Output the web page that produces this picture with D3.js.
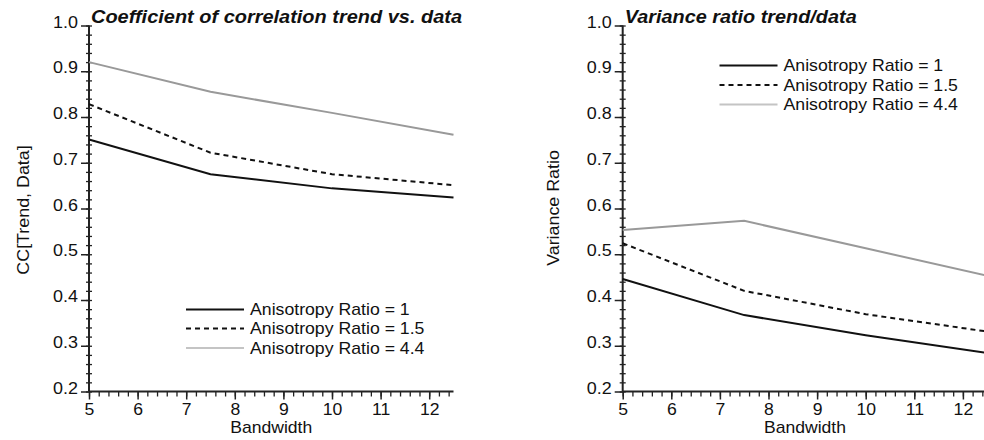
<!DOCTYPE html>
<html>
<head>
<meta charset="utf-8">
<script src="https://cdn.jsdelivr.net/npm/d3@7"></script>
<style>
  html, body { margin: 0; padding: 0; background: #fff; }
  svg { display: block; }
  text { font-family: "Liberation Sans", Arial, Helvetica, sans-serif; fill: #111; }
</style>
</head>
<body>
<svg id="chart" width="984" height="440"></svg>
<script>
// ---- data ----
const bandwidth = [5, 7.5, 10, 12.5];
const seriesNames = ["Anisotropy Ratio = 1", "Anisotropy Ratio = 1.5", "Anisotropy Ratio = 4.4"];
const ccAR1  = [0.751, 0.675, 0.644, 0.624];
const ccAR15 = [0.828, 0.722, 0.675, 0.651];
const ccAR44 = [0.920, 0.855, 0.809, 0.761];
const vrAR1  = [0.446, 0.367, 0.323, 0.284];
const vrAR15 = [0.524, 0.420, 0.369, 0.331];
const vrAR44 = [0.553, 0.573, 0.513, 0.453];
const xMajorTicks = [5, 6, 7, 8, 9, 10, 11, 12];
const yMajorTicks = [0.2, 0.3, 0.4, 0.5, 0.6, 0.7, 0.8, 0.9, 1.0];
const titles = ["Coefficient of correlation trend vs. data", "Variance ratio trend/data"];
const yLabels = ["CC[Trend, Data]", "Variance Ratio"];
const xLabel = "Bandwidth";

// ---- styles ----
const styles = [
  { stroke: "#111", dash: null, legendStroke: "#111" },
  { stroke: "#111", dash: "5,4", legendStroke: "#111" },
  { stroke: "#999", dash: null, legendStroke: "#c4c4c4" }
];

const svg = d3.select("#chart");

function stretch(sel, f) {
  sel.each(function () {
    const w = this.getComputedTextLength();
    d3.select(this).attr("textLength", w * f).attr("lengthAdjust", "spacingAndGlyphs");
  });
}

function panel(cfg) {
  const x = d3.scaleLinear().domain([5, 12.5]).range([cfg.x0, cfg.x0 + 364.5]);
  const y = d3.scaleLinear().domain([0.2, 1.0]).range([391.5, 25.5]);
  const g = svg.append("g");

  // minor x ticks
  const xMinor = d3.range(50, 126, 2).map(v => v / 10).filter(v => v <= 12.5);
  g.append("g").attr("transform", `translate(0,${y(0.2)})`)
    .call(d3.axisBottom(x).tickValues(xMinor).tickSize(5).tickFormat(""))
    .call(a => a.select(".domain").remove())
    .call(a => a.selectAll("line").attr("stroke", "#222").attr("stroke-width", 1.3));
  // major x ticks
  const xa = g.append("g").attr("transform", `translate(0,${y(0.2)})`)
    .call(d3.axisBottom(x).tickValues(xMajorTicks).tickSize(8).tickPadding(4).tickFormat(d3.format("d")))
    .call(a => a.select(".domain").remove())
    .call(a => a.selectAll("line").attr("stroke", "#222").attr("stroke-width", 1.5));
  xa.selectAll("text").attr("font-size", 16).attr("fill", "#111")
    .attr("font-family", "Liberation Sans, Arial, sans-serif");
  stretch(xa.selectAll("text"), 1.1);

  // minor y ticks
  const yMinor = d3.range(20, 101, 2).map(v => v / 100);
  g.append("g").attr("transform", `translate(${cfg.x0},0)`)
    .call(d3.axisLeft(y).tickValues(yMinor).tickSize(3).tickFormat(""))
    .call(a => a.select(".domain").remove())
    .call(a => a.selectAll("line").attr("x1", 3).attr("x2", -3).attr("stroke", "#222").attr("stroke-width", 1.3));
  // major y ticks
  const ya = g.append("g").attr("transform", `translate(${cfg.x0},0)`)
    .call(d3.axisLeft(y).tickValues(yMajorTicks).tickSize(8).tickPadding(3).tickFormat(d3.format(".1f")))
    .call(a => a.select(".domain").remove())
    .call(a => a.selectAll("line").attr("stroke", "#222").attr("stroke-width", 1.5));
  ya.selectAll("text").attr("font-size", 16).attr("fill", "#111").attr("dy", "0.1em")
    .attr("font-family", "Liberation Sans, Arial, sans-serif");
  stretch(ya.selectAll("text"), 1.12);

  // axis lines
  g.append("line").attr("x1", cfg.x0).attr("x2", cfg.x0).attr("y1", y(1.0)).attr("y2", y(0.2))
    .attr("stroke", "#222").attr("stroke-width", 2);
  g.append("line").attr("x1", cfg.x0).attr("x2", x(12.5)).attr("y1", y(0.2)).attr("y2", y(0.2))
    .attr("stroke", "#222").attr("stroke-width", 2);

  // series lines
  const line = d3.line().x((d, i) => x(bandwidth[i])).y(d => y(d));
  cfg.series.forEach((s, i) => {
    g.append("path").datum(s).attr("d", line).attr("fill", "none")
      .attr("stroke", styles[i].stroke).attr("stroke-width", 2)
      .attr("stroke-dasharray", styles[i].dash);
  });

  // title
  const t = g.append("text").attr("x", cfg.x0 + 2).attr("y", 22.5)
    .attr("font-size", 18).attr("font-weight", "bold").attr("font-style", "italic")
    .text(cfg.title);
  t.attr("textLength", cfg.titleW).attr("lengthAdjust", "spacingAndGlyphs");

  // x label
  g.append("text").attr("x", (x(5) + x(12.5)) / 2).attr("y", 433).attr("text-anchor", "middle")
    .attr("font-size", 17).text(xLabel)
    .attr("textLength", 82).attr("lengthAdjust", "spacingAndGlyphs");

  // y label
  const yl = g.append("text").attr("transform", `translate(${cfg.ylx},${cfg.yly}) rotate(-90)`)
    .attr("text-anchor", "middle").attr("font-size", 17).text(cfg.yLabel);
  stretch(yl, 1.05);

  // legend
  const lg = g.append("g");
  seriesNames.forEach((name, i) => {
    const ly = cfg.legY[i];
    lg.append("line").attr("x1", cfg.legX).attr("x2", cfg.legX + 58).attr("y1", ly).attr("y2", ly)
      .attr("stroke", styles[i].legendStroke).attr("stroke-width", 2)
      .attr("stroke-dasharray", styles[i].dash);
    const tx = lg.append("text").attr("x", cfg.legX + 64).attr("y", ly + 5.5)
      .attr("font-size", 17).text(name);
    stretch(tx, 1.04);
  });
}

panel({ x0: 89, series: [ccAR1, ccAR15, ccAR44], title: titles[0], titleW: 371,
        yLabel: yLabels[0], ylx: 29, yly: 210, legX: 186, legY: [309.5, 328.5, 348] });
panel({ x0: 622.7, series: [vrAR1, vrAR15, vrAR44], title: titles[1], titleW: 232,
        yLabel: yLabels[1], ylx: 559, yly: 208, legX: 719.5, legY: [65.5, 85, 104.5] });
</script>
</body>
</html>
